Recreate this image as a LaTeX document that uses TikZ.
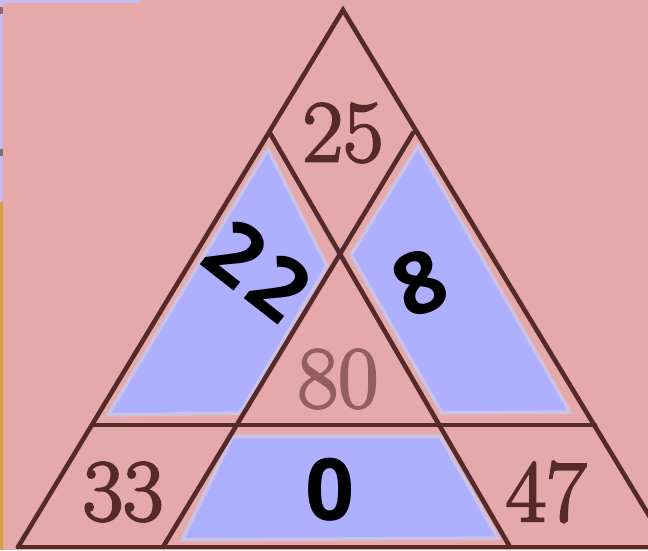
\documentclass[tikz,border=0pt]{standalone}
\usepackage{fontspec}
\newfontfamily\handfont{Open Sans}
\newfontfamily\printfont{Latin Modern Roman}[FakeBold=2.5]
\definecolor{bgpink}{RGB}{229,169,170}
\definecolor{inkbrown}{RGB}{86,42,42}
\definecolor{paleink}{RGB}{146,94,94}
\definecolor{patchblue}{RGB}{174,176,255}
\definecolor{patchrim}{RGB}{203,195,227}
\definecolor{stripviolet}{RGB}{200,186,240}
\definecolor{striporange}{RGB}{214,160,66}

\begin{document}
\begin{tikzpicture}[
  x=1pt,y=-1pt,
  edge/.style={line width=4.6pt,draw=inkbrown,line cap=round},
  patch/.style={fill=patchblue,draw=patchrim,line width=3.5pt,line join=miter},
  printed/.style={text=inkbrown,font=\printfont\fontsize{88}{88}\selectfont,inner sep=0pt},
  hand/.style={text=black,font=\handfont\bfseries\fontsize{86}{86}\selectfont,inner sep=0pt}
]
  \useasboundingbox (0,0) rectangle (648,550);
  \clip (0,0) rectangle (648,550);
  \fill[bgpink] (0,0) rectangle (648,550);
  % scan edges
  \fill[stripviolet] (0,0) rectangle (140,3);
  \fill[stripviolet] (0,0) rectangle (3,202);
  \fill[striporange] (0,202) rectangle (3,550);
  \fill[inkbrown!70] (0,7) rectangle (3,14);
  \fill[inkbrown!70] (0,149) rectangle (3,156);

  % triangle points
  \coordinate (apex) at (343,10);
  \coordinate (baseL) at (18,547);
  \coordinate (baseR) at (668,547);
  \coordinate (sideP) at (270,133);
  \coordinate (sideQ) at (413,133);
  \coordinate (cross) at (340,254);
  \coordinate (midL) at (93,425);
  \coordinate (midR) at (595,425);
  \coordinate (footL) at (163,547);
  \coordinate (footR) at (510,547);

  % blue patches
  \draw[patch] (268,149) -- (327,266) -- (240,413) -- (108,415) -- cycle;
  \draw[patch] (418,146) -- (351,255) -- (442,413) -- (570,412) -- cycle;
  \draw[patch] (233,436) -- (440,436) -- (498,538) -- (182,540) -- cycle;

  % lines
  \draw[edge] (baseL) -- (apex) -- (baseR);
  \draw[edge] (baseL) -- (baseR);
  \draw[edge] (midL) -- (midR);
  \draw[edge] (sideP) -- (cross) -- (footR);
  \draw[edge] (sideQ) -- (cross) -- (footL);

  % printed numbers
  \node[printed] (top) at (343,133) {25};
  \node[printed,text=paleink] (mid) at (338,379) {80};
  \node[printed] (lowL) at (123,492) {33};
  \node[printed] (lowR) at (546,492) {47};

  % written numbers
  \node[hand,rotate=-38] (leftnum) at (258,270) {2\kern7pt2};
  \node[hand,rotate=22] (rightnum) at (420,283) {8};
  \node[hand] (bottomnum) at (330,490) {0};
\end{tikzpicture}
\end{document}
